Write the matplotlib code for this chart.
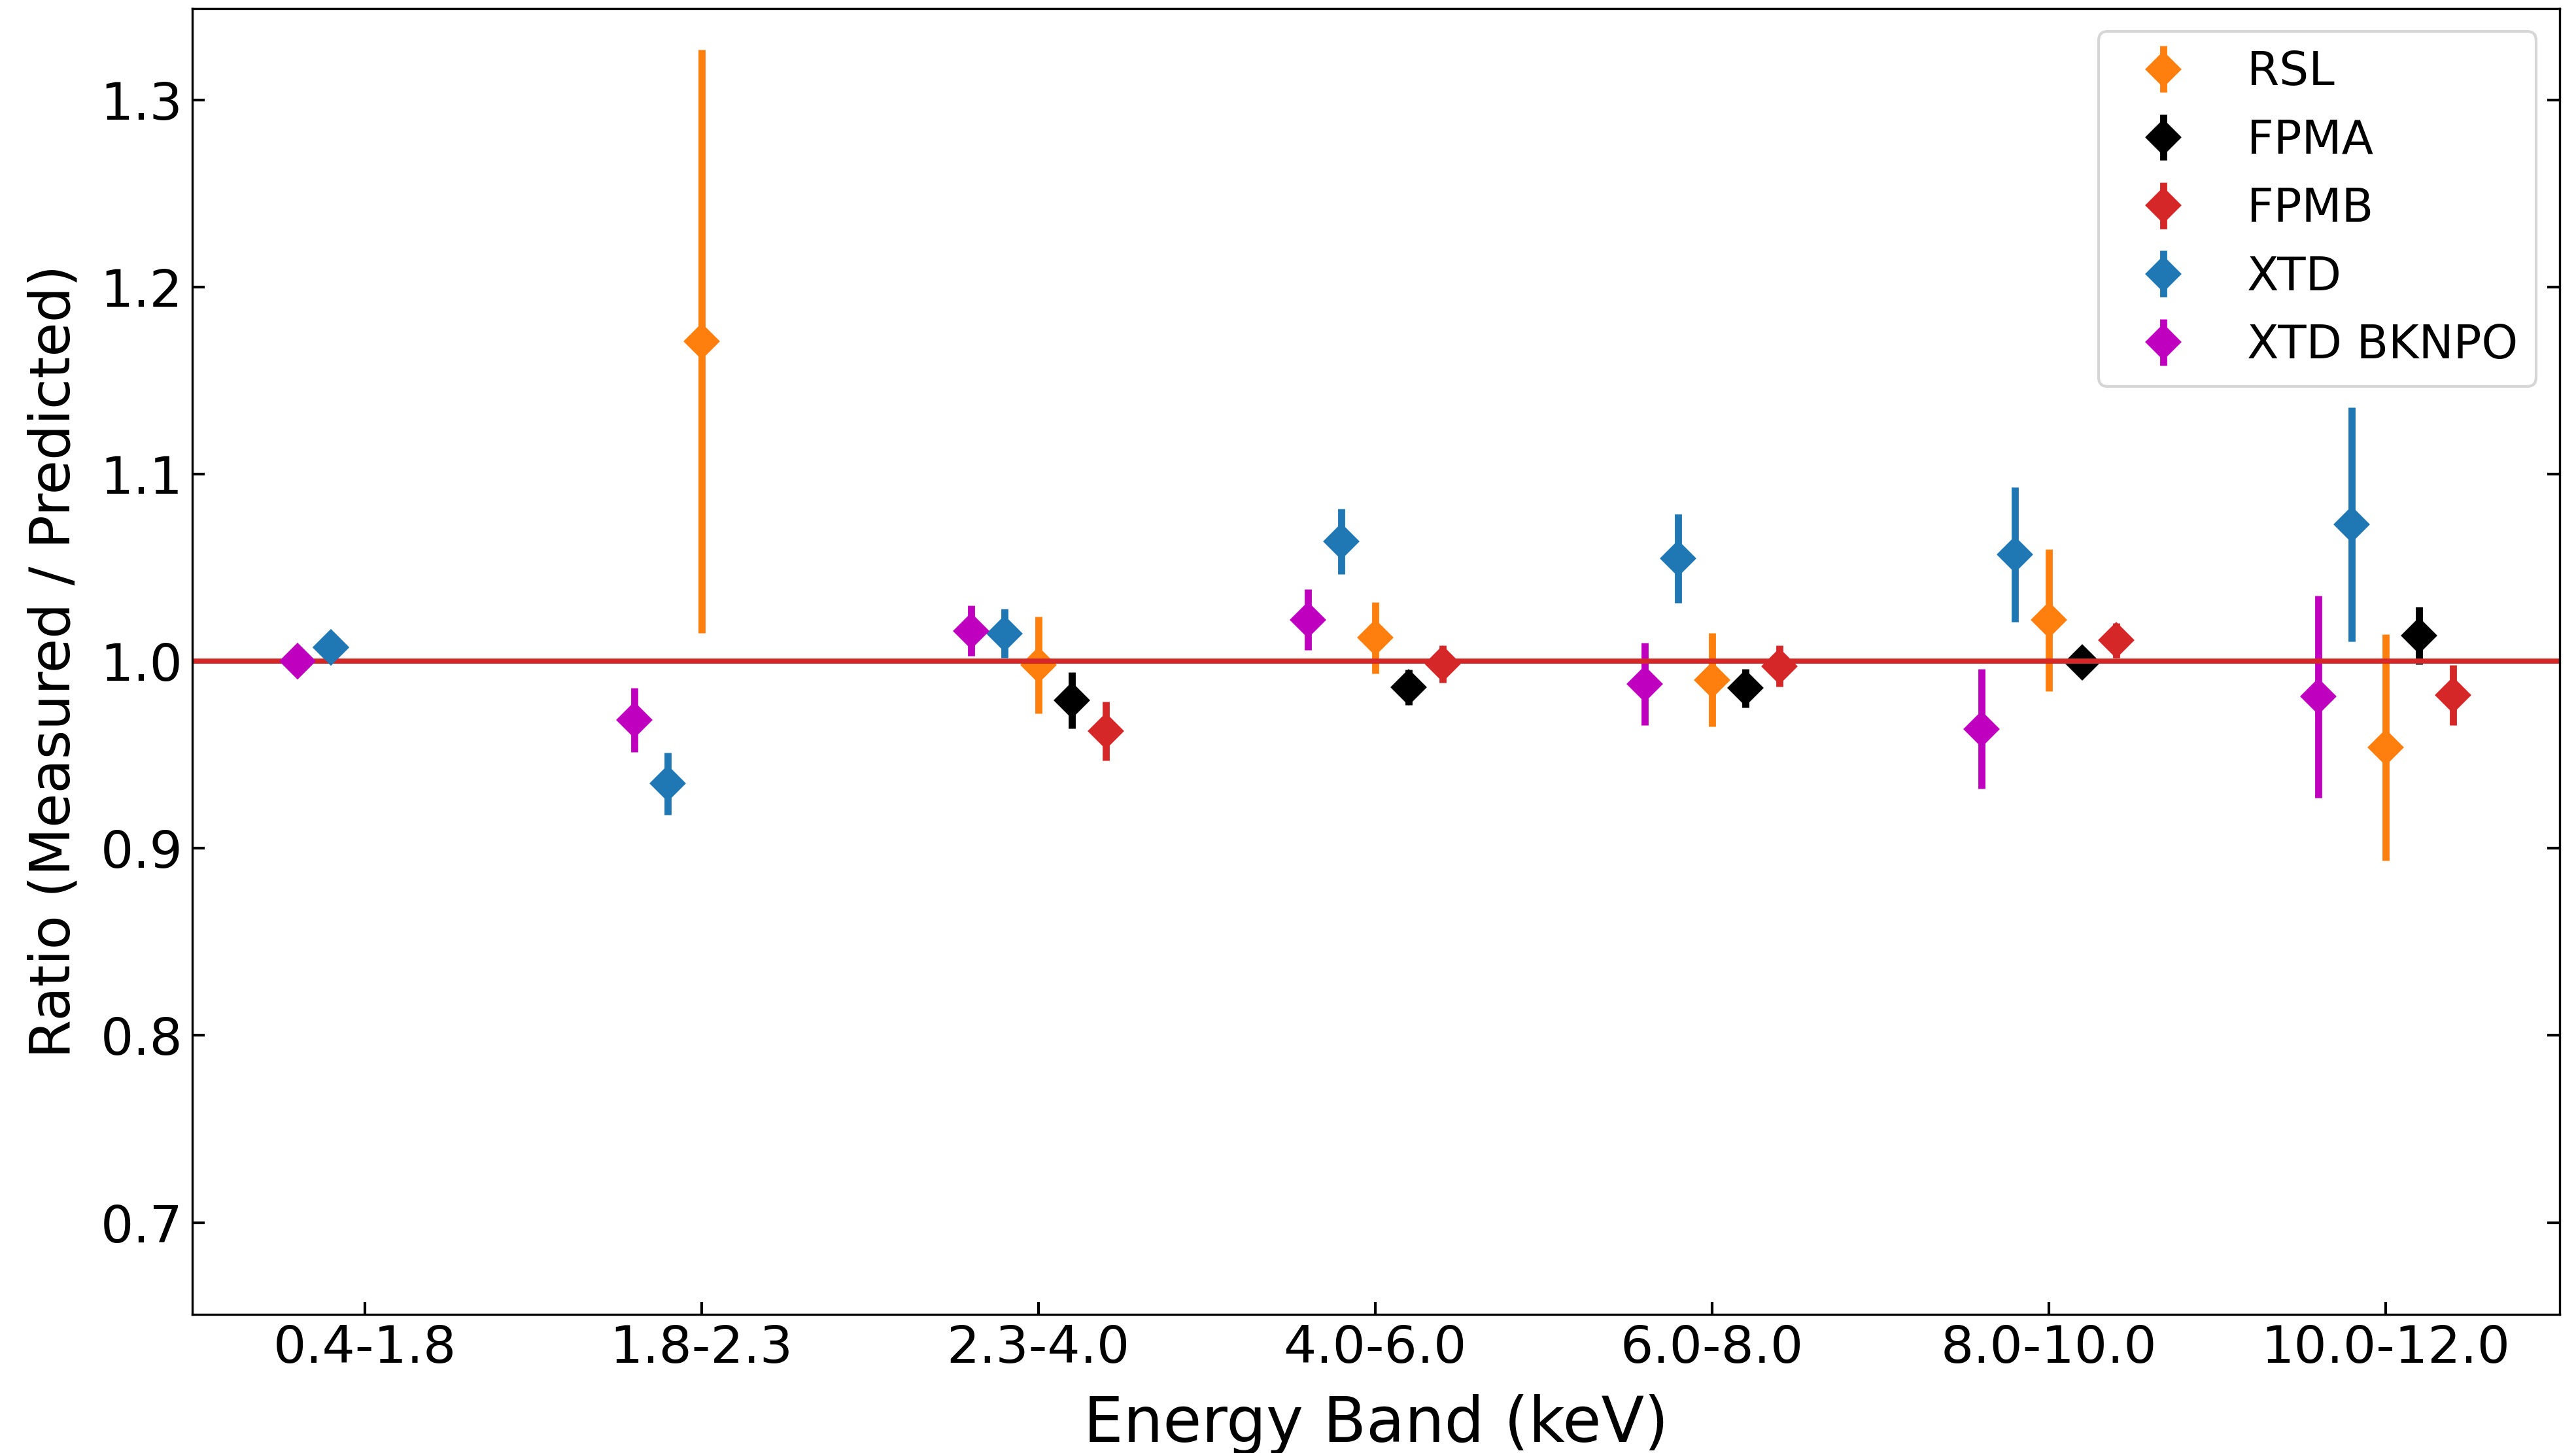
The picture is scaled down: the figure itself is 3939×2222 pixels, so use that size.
import numpy as np
import matplotlib
matplotlib.use("Agg")
import matplotlib.pyplot as plt

bands = ["0.4-1.8", "1.8-2.3", "2.3-4.0", "4.0-6.0", "6.0-8.0", "8.0-10.0", "10.0-12.0"]
nan = np.nan

# ratio (measured / predicted) and 1-sigma errors, per band
rsl       = [nan, 1.171, 0.998, 1.0125, 0.990, 1.022, 0.954]
rsl_err   = [nan, 0.156, 0.026, 0.019, 0.025, 0.038, 0.0605]
fpma      = [nan, nan, 0.979, 0.986, 0.9857, 0.9994, 1.0137]
fpma_err  = [nan, nan, 0.015, 0.0095, 0.0103, 0.006, 0.0155]
fpmb      = [nan, nan, 0.9626, 0.9986, 0.9973, 1.0112, 0.982]
fpmb_err  = [nan, nan, 0.0158, 0.0099, 0.011, 0.0093, 0.016]
xtd       = [1.0073, 0.9346, 1.0148, 1.064, 1.0549, 1.0572, 1.0732]
xtd_err   = [0.003, 0.0166, 0.0131, 0.0174, 0.0237, 0.036, 0.0625]
bknpo     = [1.0, 0.9686, 1.0163, 1.0222, 0.9879, 0.9639, 0.9812]
bknpo_err = [0.0, 0.017, 0.0134, 0.0163, 0.0219, 0.032, 0.054]

series = [
    ("RSL",       rsl,   rsl_err,   "tab:orange", 0.0),
    ("FPMA",      fpma,  fpma_err,  "black",      0.1),
    ("FPMB",      fpmb,  fpmb_err,  "tab:red",    0.2),
    ("XTD",       xtd,   xtd_err,   "tab:blue",   -0.1),
    ("XTD BKNPO", bknpo, bknpo_err, "m",          -0.2),
]

x = np.arange(len(bands))

fig = plt.figure(figsize=(13.13, 7.4067), dpi=300)
ax = fig.add_axes([0.0746, 0.0955, 0.919, 0.8988])

for name, vals, errs, color, off in series:
    ax.errorbar(x + off, vals, yerr=errs, fmt="D", color=color, ms=8.5,
                elinewidth=2.6, capsize=0, label=name, zorder=2)

ax.axhline(1.0, color="tab:red", lw=1.9, zorder=2.5)

# first band points sit on top of the reference line
for name, vals, errs, color, off in series[3:]:
    ax.errorbar(x[:1] + off, vals[:1], yerr=errs[:1], fmt="D", color=color,
                ms=8.5, elinewidth=2.6, capsize=0, zorder=3)

ax.set_xlim(-0.512, 6.517)
ax.set_ylim(0.651, 1.349)
ax.set_xticks(x)
ax.set_xticklabels(bands)
ax.set_yticks([0.7, 0.8, 0.9, 1.0, 1.1, 1.2, 1.3])
ax.tick_params(direction="in", length=4.6, width=1, labelsize=19,
               right=True, top=False)
ax.set_xlabel("Energy Band (keV)", fontsize=23, labelpad=7.5)
ax.set_ylabel("Ratio (Measured / Predicted)", fontsize=20.5, labelpad=7)
ax.legend(loc="upper right", fontsize=17)

fig.savefig("out.png", dpi=300)
